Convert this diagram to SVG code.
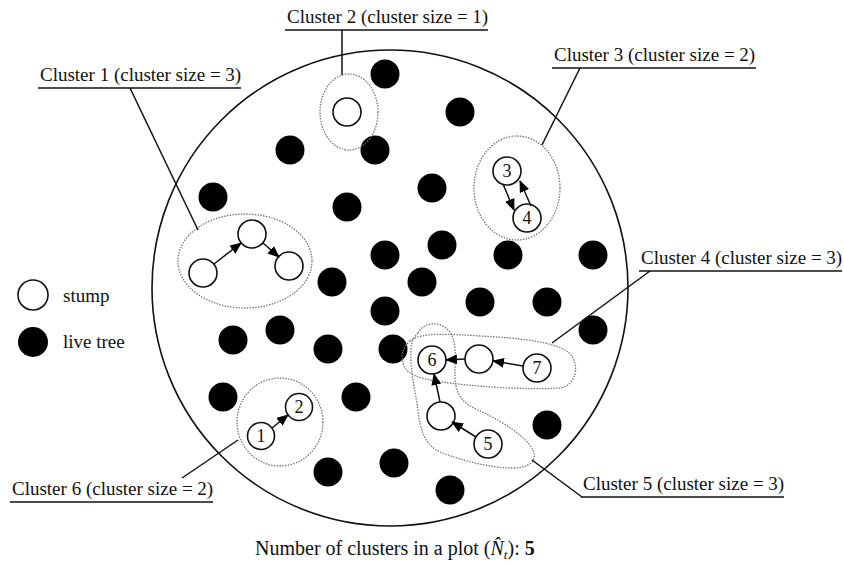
<svg xmlns="http://www.w3.org/2000/svg" width="844" height="566" viewBox="0 0 844 566">
<defs>
<style>
text{font-family:"Liberation Serif","Times New Roman",serif;fill:#111;}
.lbl{font-size:19px;}
.num{font-size:18px;text-anchor:middle;}
.tree{fill:#000;}
.stump{fill:#fff;stroke:#111;stroke-width:1.6;}
.clu{fill:none;stroke:#777;stroke-width:1.3;stroke-dasharray:1.5 1.3;}
.ln{stroke:#111;stroke-width:1.5;fill:none;}
.arr{stroke:#111;stroke-width:1.5;fill:none;marker-end:url(#ah);}
</style>
<marker id="ah" markerUnits="userSpaceOnUse" markerWidth="12" markerHeight="10" refX="11" refY="5" orient="auto">
<path d="M0,0 L12,5 L0,10 z" fill="#000"/>
</marker>
</defs>
<rect width="844" height="566" fill="#fff"/>
<circle id="plot" cx="390" cy="288" r="238" fill="none" stroke="#111" stroke-width="1.6"/>
<g id="trees">
<circle class="tree" cx="385" cy="74" r="14.5"/>
<circle class="tree" cx="290" cy="150" r="14.5"/>
<circle class="tree" cx="375" cy="150" r="14.5"/>
<circle class="tree" cx="213" cy="197" r="14.5"/>
<circle class="tree" cx="347" cy="207" r="14.5"/>
<circle class="tree" cx="460" cy="112" r="14.5"/>
<circle class="tree" cx="432" cy="188" r="14.5"/>
<circle class="tree" cx="385" cy="255" r="14.5"/>
<circle class="tree" cx="442" cy="245" r="14.5"/>
<circle class="tree" cx="332" cy="282" r="14.5"/>
<circle class="tree" cx="422" cy="282" r="14.5"/>
<circle class="tree" cx="508" cy="255" r="14.5"/>
<circle class="tree" cx="593" cy="255" r="14.5"/>
<circle class="tree" cx="480" cy="302" r="14.5"/>
<circle class="tree" cx="547" cy="302" r="14.5"/>
<circle class="tree" cx="385" cy="311" r="14.5"/>
<circle class="tree" cx="233" cy="340" r="14.5"/>
<circle class="tree" cx="280" cy="330" r="14.5"/>
<circle class="tree" cx="328" cy="349" r="14.5"/>
<circle class="tree" cx="393" cy="349" r="14.5"/>
<circle class="tree" cx="593" cy="330" r="14.5"/>
<circle class="tree" cx="223" cy="397" r="14.5"/>
<circle class="tree" cx="356" cy="397" r="14.5"/>
<circle class="tree" cx="328" cy="472" r="14.5"/>
<circle class="tree" cx="394" cy="463" r="14.5"/>
<circle class="tree" cx="547" cy="425" r="14.5"/>
<circle class="tree" cx="450" cy="490" r="14.5"/>
</g>
<g id="cluster1">
<ellipse class="clu" cx="245" cy="261" rx="67" ry="47"/>
<circle class="stump" cx="203" cy="273" r="14"/>
<circle class="stump" cx="252" cy="234" r="14"/>
<circle class="stump" cx="289" cy="266" r="14"/>
</g>
<g id="cluster2">
<ellipse class="clu" cx="349" cy="112" rx="29" ry="38"/>
<circle class="stump" cx="347" cy="112" r="14"/>
</g>
<g id="cluster3">
<ellipse class="clu" cx="517" cy="188" rx="43" ry="52"/>
<circle class="stump" cx="507" cy="171" r="14"/>
<text class="num" x="507" y="177">3</text>
<circle class="stump" cx="527" cy="218" r="14"/>
<text class="num" x="527" y="224">4</text>
</g>
<g id="cluster4">
<path class="clu" d="M410,341 C420,332 450,334 480,336 C520,338 555,342 568,352 C580,362 578,385 560,388 C530,390 480,387 450,383 C425,380 408,376 404,366 C400,356 403,347 410,341 Z"/>
</g>
<g id="cluster5">
<path class="clu" d="M418,333 C424,322 440,320 450,332 C457,342 455,360 455,375 C455,392 460,402 478,410 C500,420 525,435 533,450 C538,462 528,468 512,468 C490,468 460,460 440,452 C425,445 420,430 418,410 C415,390 410,370 411,350 C411,342 414,337 418,333 Z"/>
</g>
<g id="stumps45">
<circle class="stump" cx="432" cy="360" r="14"/>
<text class="num" x="432" y="366">6</text>
<circle class="stump" cx="479" cy="359" r="14"/>
<circle class="stump" cx="537" cy="368" r="14"/>
<text class="num" x="537" y="374">7</text>
<circle class="stump" cx="441" cy="416" r="14"/>
<circle class="stump" cx="488" cy="444" r="14"/>
<text class="num" x="488" y="450">5</text>
</g>
<g id="cluster6">
<ellipse class="clu" cx="280" cy="422" rx="43" ry="44"/>
<circle class="stump" cx="261" cy="436" r="13.5"/>
<text class="num" x="261" y="442">1</text>
<circle class="stump" cx="299" cy="407" r="13.5"/>
<text class="num" x="299" y="413">2</text>
</g>
<g id="connectors">
<line class="arr" x1="214" y1="264" x2="241" y2="243"/>
<line class="arr" x1="263" y1="243" x2="279" y2="257"/>
<line class="arr" x1="503" y1="184" x2="514" y2="210"/>
<line class="arr" x1="531" y1="206" x2="520" y2="181"/>
<line class="arr" x1="272" y1="428" x2="288" y2="415"/>
<line class="arr" x1="465" y1="359" x2="446" y2="360"/>
<line class="arr" x1="523" y1="366" x2="493" y2="361"/>
<line class="arr" x1="440" y1="402" x2="434" y2="374"/>
<line class="arr" x1="476" y1="437" x2="452" y2="422"/>
<line class="ln" x1="130" y1="88" x2="198" y2="230"/>
<line class="ln" x1="342" y1="30" x2="342" y2="75"/>
<line class="ln" x1="580" y1="68" x2="542" y2="145"/>
<line class="ln" x1="650" y1="271" x2="552" y2="343"/>
<line class="ln" x1="532" y1="460" x2="582" y2="497"/>
<line class="ln" x1="238" y1="440" x2="182" y2="478"/>
</g>
<g id="labels">
<g id="label1"><text class="lbl" x="40" y="81">Cluster 1 (cluster size = 3)</text><line class="ln" x1="38" y1="88" x2="241" y2="88"/></g>
<g id="label2"><text class="lbl" x="287" y="23">Cluster 2 (cluster size = 1)</text><line class="ln" x1="285" y1="30" x2="488" y2="30"/></g>
<g id="label3"><text class="lbl" x="554" y="61">Cluster 3 (cluster size = 2)</text><line class="ln" x1="552" y1="68" x2="756" y2="68"/></g>
<g id="label4"><text class="lbl" x="641" y="264">Cluster 4 (cluster size = 3)</text><line class="ln" x1="639" y1="271" x2="842" y2="271"/></g>
<g id="label5"><text class="lbl" x="583" y="490">Cluster 5 (cluster size = 3)</text><line class="ln" x1="581" y1="497" x2="784" y2="497"/></g>
<g id="label6"><text class="lbl" x="12" y="495">Cluster 6 (cluster size = 2)</text><line class="ln" x1="10" y1="502" x2="213" y2="502"/></g>
</g>
<g id="legend">
<circle class="stump" cx="33" cy="295" r="15"/>
<text class="lbl" x="63" y="302">stump</text>
<circle class="tree" cx="33" cy="342" r="15"/>
<text class="lbl" x="63" y="348">live tree</text>
</g>
<text class="lbl" x="255" y="555" style="font-size:20px">Number of clusters in a plot (<tspan font-style="italic">N̂</tspan><tspan font-style="italic" font-size="13" dy="4">t</tspan><tspan dy="-4">): </tspan><tspan font-weight="bold">5</tspan></text>
</svg>
